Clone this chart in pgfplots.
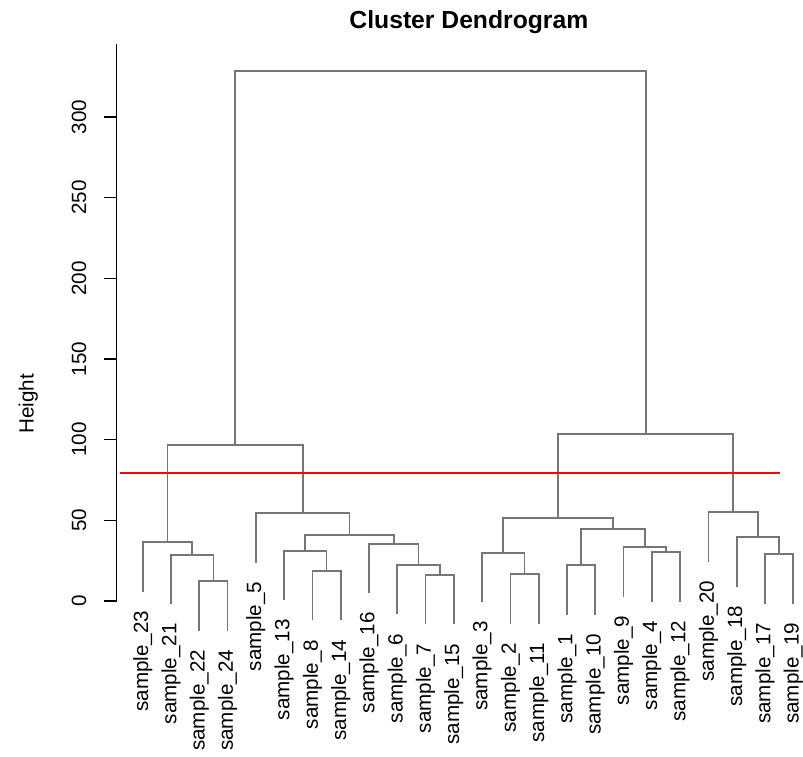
\documentclass[border=0pt]{standalone}
\usepackage{fontspec}
\setmainfont{Liberation Sans}
\usepackage{pgfplots}
\usepackage{pgfplotstable}
\pgfplotsset{compat=1.18}
\definecolor{dendro}{RGB}{118,118,118}
\newcommand{\lblfont}{\fontsize{20.7}{24}\selectfont}

% dendrogram segments: each merge as a Pi shape, separated by nan rows
\pgfplotstableread{
x y
3 -18.4
3 12.2
4 12.2
4 -18.4
nan nan
2 -1.9
2 28.7
3.5 28.7
3.5 12.2
nan nan
1 5.8
1 36.4
2.75 36.4
2.75 28.7
nan nan
7 -12.0
7 18.6
8 18.6
8 -12.0
nan nan
6 0.6
6 31.2
7.5 31.2
7.5 18.6
nan nan
11 -14.5
11 16.1
12 16.1
12 -14.5
nan nan
10 -8.3
10 22.3
11.5 22.3
11.5 16.1
nan nan
9 4.9
9 35.5
10.75 35.5
10.75 22.3
nan nan
6.75 31.2
6.75 40.9
9.875 40.9
9.875 35.5
nan nan
5 23.8
5 54.4
8.3125 54.4
8.3125 40.9
nan nan
1.875 36.4
1.875 96.7
6.65625 96.7
6.65625 54.4
nan nan
14 -14.1
14 16.5
15 16.5
15 -14.1
nan nan
13 -0.7
13 29.9
14.5 29.9
14.5 16.5
nan nan
16 -8.5
16 22.1
17 22.1
17 -8.5
nan nan
19 -0.4
19 30.2
20 30.2
20 -0.4
nan nan
18 2.7
18 33.3
19.5 33.3
19.5 30.2
nan nan
16.5 22.1
16.5 44.6
18.75 44.6
18.75 33.3
nan nan
13.75 29.9
13.75 51.2
17.625 51.2
17.625 44.6
nan nan
23 -1.7
23 28.9
24 28.9
24 -1.7
nan nan
22 8.9
22 39.5
23.5 39.5
23.5 28.9
nan nan
21 24.4
21 55.0
22.75 55.0
22.75 39.5
nan nan
15.6875 51.2
15.6875 103.7
21.875 103.7
21.875 55.0
nan nan
4.265625 96.7
4.265625 328.5
18.78125 328.5
18.78125 103.7
}\dendro

% leaf labels: x, anchor height, sample number
\pgfplotstableread{
x y s
1 -6.0 23
2 -13.7 21
3 -30.2 22
4 -30.2 24
5 12.0 5
6 -11.2 13
7 -23.8 8
8 -23.8 14
9 -6.9 16
10 -20.1 6
11 -26.3 7
12 -26.3 15
13 -12.5 3
14 -25.9 2
15 -25.9 11
16 -20.3 1
17 -20.3 10
18 -9.1 9
19 -12.2 4
20 -12.2 12
21 12.6 20
22 -2.9 18
23 -13.5 17
24 -13.5 19
}\leaves

\begin{document}
\begin{tikzpicture}
\begin{axis}[
  scale only axis,
  width=686.3bp, height=556.6bp,
  xmin=0.081, xmax=24.343, ymin=0, ymax=345,
  axis x line=none, axis y line*=left,
  axis line style={-, black, line width=1.3bp},
  ytick={0,50,100,150,200,250,300},
  tick align=outside, major tick length=12.7bp,
  ytick style={black, line width=1.3bp},
  /pgf/number format/assume math mode=true,
  yticklabel style={font=\lblfont, xshift=-17.5bp, rotate=90, anchor=south, inner sep=0pt},
  ylabel={Height},
  ylabel style={at={(axis description cs:-0.1288,0.3539)}, anchor=center, font=\lblfont, inner sep=0pt},
  clip=false,
  unbounded coords=jump,
]
\addplot[dendro, line width=1.8bp] table[x=x, y=y] {\dendro};
\addplot[draw=none, nodes near coords={sample\_\pgfplotspointmeta},
  point meta=explicit symbolic,
  nodes near coords align={east},
  every node near coord/.append style={rotate=90, anchor=east, inner sep=0pt, font=\lblfont, text=black}]
  table[x=x, y=y, meta=s] {\leaves};
\addplot[red, line width=2bp] coordinates {(0.198,79.2) (23.53,79.2)};
\node[anchor=base, inner sep=0pt, font=\bfseries\fontsize{24.8}{28}\selectfont] at (axis cs:12.532,355) {Cluster Dendrogram};
\end{axis}
\pgfresetboundingbox
\path[use as bounding box] (-116.7bp,-156bp) rectangle (686.3bp,601bp);
\end{tikzpicture}
\end{document}
